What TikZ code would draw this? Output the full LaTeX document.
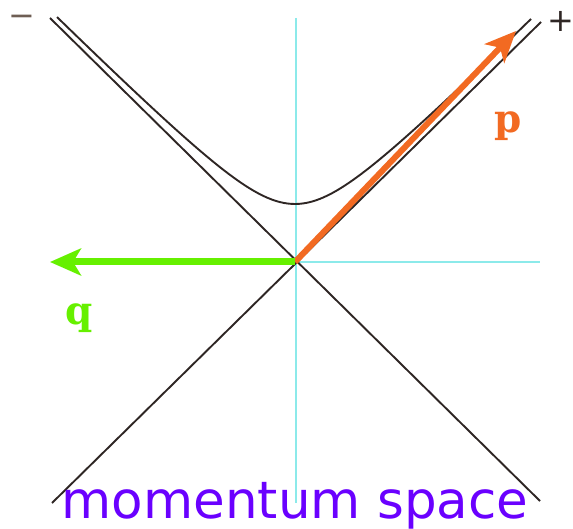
\documentclass[tikz,border=0pt]{standalone}
\usepackage{fontspec}
\usetikzlibrary{arrows.meta}
\newfontfamily\djv{DejaVu Sans}
\newfontfamily\djvserif{DejaVu Serif}
\definecolor{axiscyan}{HTML}{8CEAEA}
\definecolor{conebrown}{HTML}{2E2624}
\definecolor{minusbrown}{HTML}{6E5E54}
\definecolor{porange}{HTML}{F26A22}
\definecolor{qgreen}{HTML}{66F000}
\definecolor{labelpurple}{HTML}{6A00FF}
\tikzset{
  axisline/.style={draw=axiscyan, line width=1.5pt},
  coneline/.style={draw=conebrown, line width=1.9pt},
  vecarrow/.style={line width=#1, -{Stealth[length=31pt, width=27pt, inset=8pt]}},
  plainlabel/.style={inner sep=0pt, outer sep=0pt}
}
\begin{document}
\begin{tikzpicture}[x=1pt, y=-1pt]
\useasboundingbox (0,0) rectangle (573,529);
% key points
\coordinate (O) at (295,262);
\coordinate (Vt) at (296,18);
\coordinate (Vb) at (296,503);
\coordinate (Hl) at (60,262);
\coordinate (Hr) at (540,262);
\coordinate (C1a) at (50,18);
\coordinate (C1b) at (540,501);
\coordinate (C2a) at (541,22);
\coordinate (C2b) at (52,503);
\coordinate (P) at (516,31);
\coordinate (Q) at (50,262);
% axes
\draw[axisline] (Vt) -- (Vb);
\draw[axisline] (Hl) -- (Hr);
% light cone
\draw[coneline] (C1a) -- (C1b);
\draw[coneline] (C2a) -- (C2b);
% mass hyperbola
\draw[coneline] plot[domain=-238:236, samples=120, smooth]
  ({295+\x},{262-10*sqrt(5.8*5.8+(\x/10)*(\x/10))});
% vectors
\draw[vecarrow=6pt, porange] (O) -- (P);
\draw[vecarrow=7pt, qgreen] (O) -- (Q);
% labels
\node[plainlabel, text=porange, font={\djvserif\bfseries\fontsize{39}{39}\selectfont}] (plabel) at (508,126) {p};
\node[plainlabel, text=qgreen, font={\djvserif\bfseries\fontsize{39}{39}\selectfont}] (qlabel) at (79,318) {q};
\node[plainlabel, text=conebrown, font={\djv\fontsize{32}{32}\selectfont}] (plus) at (561,21) {+};
\node[plainlabel, text=minusbrown, font={\djv\fontsize{32}{32}\selectfont}] (minus) at (22,21) {−};
\node[plainlabel, anchor=base, text=labelpurple, font={\djv\fontsize{51.5}{52}\selectfont}] (title) at (295,518) {momentum space};
\end{tikzpicture}
\end{document}
